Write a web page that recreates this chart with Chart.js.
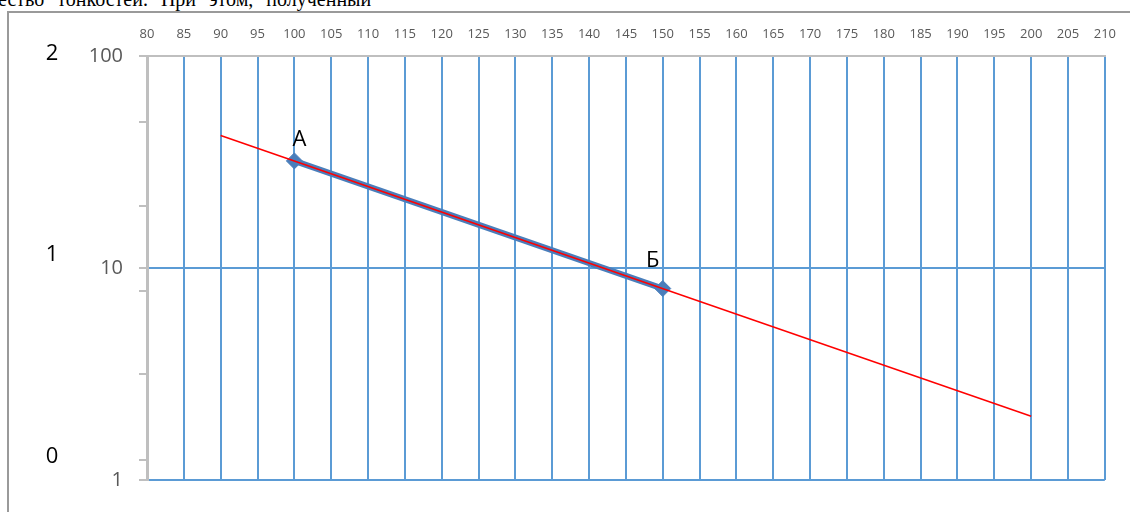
<!DOCTYPE html>
<html>
<head>
<meta charset="utf-8">
<script src="https://cdn.jsdelivr.net/npm/chart.js@4.4.1/dist/chart.umd.min.js"></script>
<style>
  html, body { margin: 0; padding: 0; background: #fff; }
  body { width: 1130px; height: 512px; position: relative; overflow: hidden; }
  .text { position: absolute; left: -2px; top: -12px; font-family: "Liberation Serif", serif; font-size: 20px; word-spacing: 8px; color: #000; white-space: nowrap; }
  .frame { position: absolute; left: 7px; top: 11px; width: 1200px; height: 600px; border-left: 2px solid #9a9a9a; border-top: 2px solid #9a9a9a; }
  canvas { position: absolute; left: 0; top: 0; }
</style>
</head>
<body>
<div class="text">ество  тонкостей.  При  этом,  полученный</div>
<div class="frame"></div>
<canvas id="chart" width="1130" height="512"></canvas>
<script>
// values
const pointX = [100, 150];
const pointY = [32, 8];
const pointNames = ['А', 'Б'];
const trendX = [90, 200];
const trendY = [42.2, 2];
const yMajor = [1, 10, 100];
const yMinor = [1.24, 3.16, 7.8, 19.6, 49];
const lgLabels = [2, 1, 0];

const blue = '#5B9BD5';
const gray = '#BFBFBF';
const labelGray = '#595959';

const pointLabels = {
    id: 'pointLabels',
    afterDatasetsDraw(chart) {
        const ctx = chart.ctx;
        const meta = chart.getDatasetMeta(1);
        const offsets = [[5, -21], [-10, -28]];
        ctx.save();
        ctx.font = '22px "Open Sans"';
        ctx.fillStyle = '#000';
        ctx.textAlign = 'center';
        ctx.textBaseline = 'middle';
        meta.data.forEach((pt, i) => {
            ctx.fillText(pointNames[i], pt.x + offsets[i][0], pt.y + offsets[i][1]);
        });
        ctx.restore();
    }
};

const lgAxis = {
    id: 'lgAxis',
    afterDraw(chart) {
        const ctx = chart.ctx;
        const area = chart.chartArea;
        const step = (area.bottom - area.top - 21) / 2;
        ctx.save();
        ctx.font = '22px "Open Sans"';
        ctx.fillStyle = '#000';
        ctx.textAlign = 'center';
        ctx.textBaseline = 'middle';
        lgLabels.forEach(v => {
            ctx.fillText(String(v), 52, area.top - 2.5 + (2 - v) * step);
        });
        ctx.restore();
    }
};

new Chart(document.getElementById('chart'), {
    type: 'line',
    data: {
        datasets: [
            {
                data: trendX.map((x, i) => ({ x, y: trendY[i] })),
                borderColor: '#FF0000',
                borderWidth: 1.5,
                pointRadius: 0,
                order: 0
            },
            {
                data: pointX.map((x, i) => ({ x, y: pointY[i] })),
                borderColor: '#4A7EBB',
                borderWidth: 6,
                pointStyle: 'rectRot',
                pointRadius: 8,
                pointBackgroundColor: '#4A7EBB',
                pointBorderColor: '#4A7EBB',
                pointBorderWidth: 1,
                order: 1
            }
        ]
    },
    options: {
        responsive: false,
        animation: false,
        devicePixelRatio: 1,
        layout: { padding: { left: 0, right: 22, top: 0, bottom: 32 } },
        plugins: { legend: { display: false }, tooltip: { enabled: false } },
        elements: { line: { tension: 0 } },
        scales: {
            x: {
                type: 'linear',
                position: 'top',
                min: 80,
                max: 210,
                afterFit: (s) => { s.height = 56; },
                ticks: {
                    stepSize: 5,
                    autoSkip: false,
                    maxRotation: 0,
                    padding: 14,
                    color: labelGray,
                    font: { family: 'Open Sans', size: 13 }
                },
                grid: {
                    drawTicks: false,
                    lineWidth: 2,
                    color: (c) => (c.tick && c.tick.value === 80) ? 'rgba(0,0,0,0)' : blue
                },
                border: { display: true, color: gray, width: 2 }
            },
            y: {
                type: 'logarithmic',
                min: 1,
                max: 100,
                afterFit: (s) => { s.width = 147; },
                afterBuildTicks: (s) => {
                    s.ticks = yMajor.concat(yMinor).sort((a, b) => a - b).map(v => ({ value: v }));
                },
                ticks: {
                    autoSkip: false,
                    padding: 16,
                    color: labelGray,
                    font: { family: 'Open Sans', size: 20 },
                    callback: (v) => yMajor.includes(v) ? String(v) : ''
                },
                grid: {
                    lineWidth: 2,
                    tickLength: 8,
                    tickWidth: 2,
                    tickColor: gray,
                    color: (c) => (c.tick && (c.tick.value === 1 || c.tick.value === 10)) ? blue : 'rgba(0,0,0,0)'
                },
                border: { display: true, color: gray, width: 3 }
            }
        }
    },
    plugins: [pointLabels, lgAxis]
});
</script>
</body>
</html>
